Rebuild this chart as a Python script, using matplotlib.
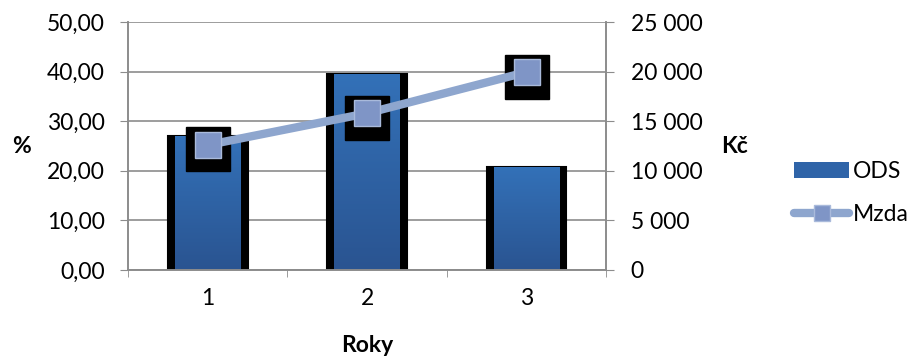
import matplotlib.pyplot as plt
import matplotlib.transforms as mtransforms
from matplotlib.colors import LinearSegmentedColormap
from matplotlib.lines import Line2D
from matplotlib.patches import Patch
import numpy as np

plt.rcParams['font.family'] = ['Lato', 'DejaVu Sans']

years = [1, 2, 3]
ods = [27.0, 39.6, 20.7]
mzda = [12600, 15800, 19950]

fig = plt.figure(figsize=(9.17, 3.58), dpi=100)
ax = fig.add_axes([0.1396, 0.246, 0.5215, 0.6925])
ax2 = ax.twinx()

grey = '#8c8c8c'
fs = 16.5

# black shadow bars behind the blue ones
ax.bar(years, ods, width=0.50, color='black', edgecolor='black',
       linewidth=1.5, zorder=2)
bars = ax.bar(years, ods, width=0.41, color='#2F64A8', linewidth=0, zorder=2.2)
cmap = LinearSegmentedColormap.from_list('g', ['#2A5491', '#3371B8'])
grad = np.linspace(0, 1, 100).reshape(-1, 1)
for b in bars:
    x0, y0 = b.get_x(), b.get_y()
    im = ax.imshow(grad, cmap=cmap, origin='lower', aspect='auto',
                   extent=(x0, x0 + b.get_width(), y0, y0 + b.get_height()),
                   zorder=2.5)
    im.set_clip_path(b)

ax.set_xlim(0.5, 3.5)
ax.set_ylim(0, 50)
ax.set_yticks(range(0, 51, 10))
ax.set_yticklabels([f'{v},00' for v in range(0, 51, 10)])
ax.set_xticks(years)
ax.set_xticks([0.5, 1.5, 2.5, 3.5], minor=True)
ax.tick_params(axis='x', which='major', length=0, pad=13, labelsize=fs)
ax.tick_params(axis='x', which='minor', length=5, color=grey)
ax.tick_params(axis='y', length=5.5, color=grey, labelsize=fs, pad=11)
ax.grid(axis='y', color=grey, linewidth=1.2, zorder=0)
ax.set_axisbelow(True)

# line with shadowed square markers
shadow = mtransforms.offset_copy(ax2.transData, fig=fig, x=0, y=-4.5, units='dots')
ax2.plot(years, mzda, linestyle='none', marker='s', markersize=32,
         color='black', transform=shadow, zorder=3)
ax2.plot(years, mzda, color='#8EA6CE', linewidth=6, marker='s', markersize=19,
         markerfacecolor='#7F95C6', markeredgecolor='#A9BADB', markeredgewidth=1,
         solid_capstyle='round', zorder=4)
ax2.set_ylim(0, 25000)
ax2.set_yticks(range(0, 25001, 5000))
ax2.set_yticklabels(['0', '5 000', '10 000', '15 000', '20 000', '25 000'])
ax2.tick_params(axis='y', length=5.5, color=grey, labelsize=fs, pad=12)

for a in (ax, ax2):
    a.spines['top'].set_visible(False)
    for s in ('left', 'right', 'bottom'):
        a.spines[s].set_color(grey)
        a.spines[s].set_linewidth(1.2)

fig.text(0.013, 0.592, '%', fontsize=fs, fontweight='bold', va='center', ha='left')
fig.text(0.786, 0.592, 'Kč', fontsize=fs, fontweight='bold', va='center', ha='left')
fig.text(0.400, 0.034, 'Roky', fontsize=fs, fontweight='bold', va='center', ha='center')

handles = [Patch(facecolor='#2F64A8', label='ODS'),
           Line2D([], [], color='#8EA6CE', linewidth=6, marker='s', markersize=12,
                  markerfacecolor='#7F95C6', markeredgecolor='#A9BADB',
                  solid_capstyle='round', label='Mzda')]
fig.legend(handles=handles, loc='center left', bbox_to_anchor=(0.866, 0.461),
           frameon=False, fontsize=fs, handlelength=2.4, handletextpad=0.15,
           labelspacing=0.95, borderpad=0, borderaxespad=0)

fig.savefig('out.png', dpi=100)
